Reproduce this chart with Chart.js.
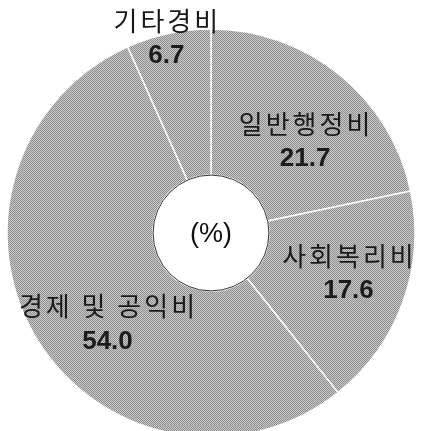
<!DOCTYPE html>
<html>
<head>
<meta charset="utf-8">
<script src="https://cdn.jsdelivr.net/npm/chart.js@4"></script>
<style>
  html, body { margin: 0; padding: 0; background: #fff; overflow: hidden; width: 426px; height: 431px; }
  #wrap { position: relative; width: 426px; height: 466px; }
</style>
</head>
<body>
<div id="wrap"><canvas id="c"></canvas></div>
<script>
// ---- data ----
const categories = ['일반행정비', '사회복리비', '경제 및 공익비', '기타경비'];
const shares = [21.7, 17.6, 54.0, 6.7];
const valueLabels = ['21.7', '17.6', '54.0', '6.7'];
const centerText = '(%)';

// ---- label placement (style): angle offset in degrees from slice middle, radius fraction ----
const labelAngleOffset = [6.3, -3.5, -9.6, -1.1];
const labelRadiusFrac = [0.641, 0.697, 0.678, 0.983];

// halftone-like grey fill
function makePattern() {
  const p = document.createElement('canvas');
  p.width = 2; p.height = 2;
  const g = p.getContext('2d');
  g.fillStyle = '#cacaca'; g.fillRect(0, 0, 2, 2);
  g.fillStyle = '#8e8e8e'; g.fillRect(0, 0, 1, 1); g.fillRect(1, 1, 1, 1);
  return g.createPattern(p, 'repeat');
}
const fill = makePattern();

const labelPlugin = {
  id: 'labels',
  afterDatasetsDraw(chart) {
    const ctx = chart.ctx;
    const meta = chart.getDatasetMeta(0);
    const a0 = meta.data[0];
    // inner circle outline
    ctx.save();
    ctx.beginPath();
    ctx.arc(a0.x, a0.y, a0.innerRadius, 0, Math.PI * 2);
    ctx.strokeStyle = '#333';
    ctx.lineWidth = 1;
    ctx.stroke();
    // center text
    ctx.fillStyle = '#111';
    ctx.textAlign = 'center';
    ctx.textBaseline = 'middle';
    ctx.font = '27px "Liberation Sans", Arial, sans-serif';
    ctx.fillText(centerText, a0.x, a0.y + 2);
    meta.data.forEach((arc, i) => {
      const mid = (arc.startAngle + arc.endAngle) / 2 + labelAngleOffset[i] * Math.PI / 180;
      const r = arc.outerRadius * labelRadiusFrac[i];
      const x = arc.x + Math.cos(mid) * r;
      const y = arc.y + Math.sin(mid) * r;
      ctx.font = '26px "Noto Sans CJK KR", sans-serif';
      ctx.letterSpacing = '3px';
      ctx.fillStyle = '#1a1a1a';
      ctx.fillText(categories[i], x + 2, y - 17);
      ctx.letterSpacing = '0px';
      ctx.font = 'bold 26px "Liberation Sans", Arial, sans-serif';
      ctx.fillStyle = '#1c1c1c';
      ctx.fillText(valueLabels[i], x + 1, y + 18);
    });
    ctx.restore();
  }
};

new Chart(document.getElementById('c'), {
  type: 'doughnut',
  data: {
    labels: categories,
    datasets: [{
      data: shares,
      backgroundColor: fill,
      borderColor: '#ffffff',
      borderWidth: 1.5,
      radius: 204,
      hoverOffset: 0
    }]
  },
  options: {
    responsive: true,
    maintainAspectRatio: false,
    animation: false,
    cutout: '28.4%',
    rotation: 0,
    layout: { padding: { left: 0, right: 4, top: 0, bottom: 0 } },
    plugins: {
      legend: { display: false },
      tooltip: { enabled: false }
    }
  },
  plugins: [labelPlugin]
});
</script>
</body>
</html>
